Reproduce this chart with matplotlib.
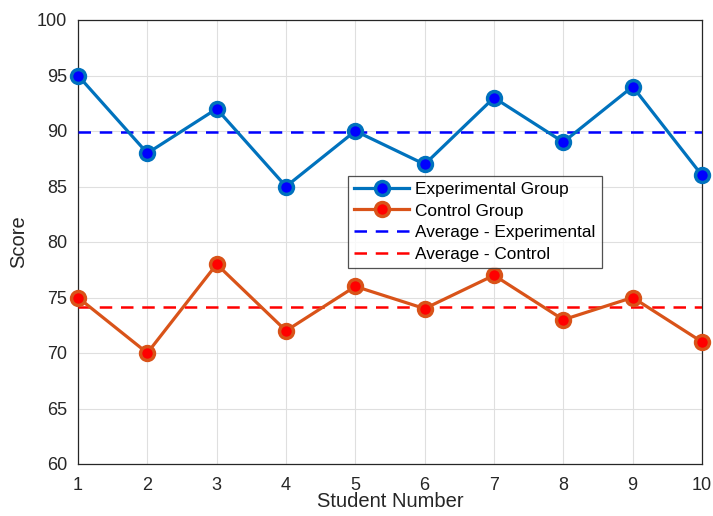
import matplotlib
matplotlib.use("Agg")
import matplotlib.pyplot as plt
import numpy as np

students = [1, 2, 3, 4, 5, 6, 7, 8, 9, 10]
experimental = [95, 88, 92, 85, 90, 87, 93, 89, 94, 86]
control = [75, 70, 78, 72, 76, 74, 77, 73, 75, 71]
yticks = [60, 65, 70, 75, 80, 85, 90, 95, 100]

plt.rcParams['font.family'] = ['Liberation Sans', 'DejaVu Sans']

fig = plt.figure(figsize=(7.13, 5.16), dpi=100)
# axes box: x 78..702, y 20..464 (pixels)
ax = fig.add_axes([78/713, (516-464)/516, (702-78)/713, (464-20)/516])

avg_e = np.mean(experimental)
avg_c = np.mean(control)

ax.plot(students, experimental, '-o', color='#0072BD', lw=2.3, marker='o',
        markersize=10, markerfacecolor='#0000FF', markeredgecolor='#0072BD',
        markeredgewidth=2.5, label='Experimental Group', zorder=4, clip_on=False)
ax.plot(students, control, '-o', color='#D95319', lw=2.3, marker='o',
        markersize=10, markerfacecolor='#FF0000', markeredgecolor='#D95319',
        markeredgewidth=2.5, label='Control Group', zorder=4, clip_on=False)
ax.plot([students[0], students[-1]], [avg_e, avg_e], '--', color='#0000FF', lw=1.8,
        dashes=(5, 3.5), label='Average - Experimental', zorder=3)
ax.plot([students[0], students[-1]], [avg_c, avg_c], '--', color='#FF0000', lw=1.8,
        dashes=(5, 3.5), label='Average - Control', zorder=3)

ax.set_xlim(1, 10)
ax.set_ylim(60, 100)
ax.set_xticks(students)
ax.set_yticks(yticks)
ax.tick_params(axis='both', labelsize=13, direction='in', length=0, colors='#262626')
ax.tick_params(axis='y', pad=8)
ax.tick_params(axis='x', pad=9)
ax.grid(True, color='#DFDFDF', lw=0.8)
ax.set_axisbelow(True)
for s in ax.spines.values():
    s.set_color('#262626')
    s.set_linewidth(0.9)

ax.set_xlabel('Student Number', fontsize=14.5, color='#262626', labelpad=-1)
ax.set_ylabel('Score', fontsize=14.5, color='#262626', labelpad=6)

leg = ax.legend(loc='upper left', bbox_to_anchor=(0.433, 0.649), fontsize=12.4,
                frameon=True, fancybox=False, edgecolor='#262626',
                handlelength=3.2, borderpad=0.35, labelspacing=0.38,
                handletextpad=0.35, borderaxespad=0)
leg.get_frame().set_linewidth(0.9)

fig.savefig('out.png', dpi=100)
